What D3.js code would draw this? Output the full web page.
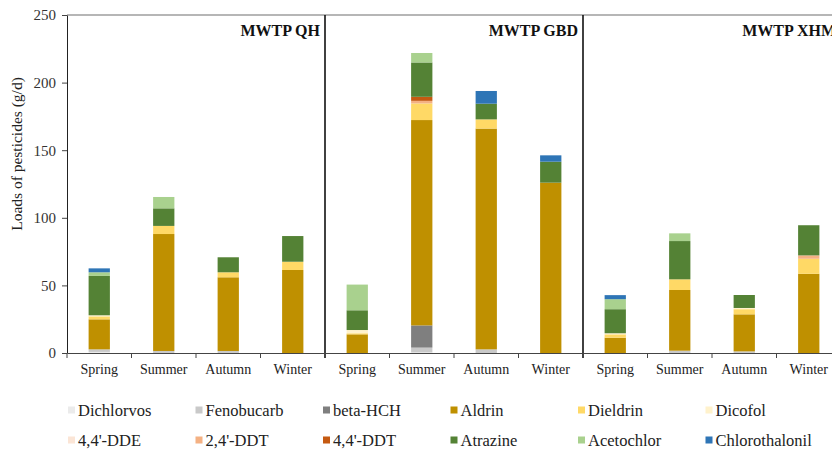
<!DOCTYPE html>
<html>
<head>
<meta charset="utf-8">
<script src="https://cdn.jsdelivr.net/npm/d3@7"></script>
<style>
  html, body { margin: 0; padding: 0; background: #fff; }
  svg { display: block; }
  svg text { font-family: "Liberation Serif", "Times New Roman", serif; }
</style>
</head>
<body>
<svg id="chart" width="832" height="450"></svg>
<script>
// Treatment plants and sampling seasons
const plants = ["MWTP QH", "MWTP GBD", "MWTP XHM"];
const seasons = ["Spring", "Summer", "Autumn", "Winter"];
const yTicks = [0, 50, 100, 150, 200, 250];

// Pesticide names (stack order, bottom to top) and their fill colours
const pesticides = ["Dichlorvos", "Fenobucarb", "beta-HCH", "Aldrin", "Dieldrin", "Dicofol",
                    "4,4'-DDE", "2,4'-DDT", "4,4'-DDT", "Atrazine", "Acetochlor", "Chlorothalonil"];
const colors = ["#ebebeb", "#c9c9c9", "#7f7f7f", "#bf9000", "#ffd966", "#fff2cc",
                "#fbe5d6", "#f4b183", "#c55a11", "#548235", "#a9d18e", "#2e75b6"];

// Loads (g/d); order: QH Spring..Winter, GBD Spring..Winter, XHM Spring..Winter
const dichlorvos     = [0.8, 0, 0, 0,    0, 0.5, 0, 0,      0, 0, 0, 0];
const fenobucarb     = [1.9, 1.5, 1.5, 0, 0, 3.5, 2.7, 0,   0, 1.7, 1.2, 0];
const betaHCH        = [0, 0, 0, 0,      0, 16.4, 0, 0,     0, 0, 0, 0];
const aldrin         = [22.2, 86.5, 54.5, 61.4, 13.8, 151.9, 163.3, 126, 11.3, 44.9, 27.4, 58.6];
const dieldrin       = [2.2, 6.0, 3.7, 6.1, 0.8, 12.3, 6.8, 0, 2.5, 7.9, 3.8, 11.1];
const dicofol        = [0.8, 0, 0, 0,    2.4, 0, 0, 0,      0.8, 0, 0.9, 0];
const dde44          = [0, 0, 0, 0,      0, 0, 0, 0,        0, 0, 0, 0];
const ddt24          = [0, 0, 0, 0,      0, 1.9, 0, 0,      0, 0, 0, 2.5];
const ddt44          = [0, 0, 0, 0,      0, 3.0, 0, 0,      0, 0, 0, 0];
const atrazine       = [29.1, 13.0, 11.1, 19.0, 14.6, 25.4, 11.6, 15.5, 17.8, 28.3, 9.6, 22.3];
const acetochlor     = [2.7, 8.4, 0, 0,  19.0, 7.0, 0, 0,   7.4, 5.7, 0, 0];
const chlorothalonil = [2.9, 0, 0, 0,    0, 0, 9.4, 4.7,    3.0, 0, 0, 0];

const seriesValues = [dichlorvos, fenobucarb, betaHCH, aldrin, dieldrin, dicofol,
                      dde44, ddt24, ddt44, atrazine, acetochlor, chlorothalonil];

const FONT = "Liberation Serif, Times New Roman, serif";

// Build one row per bar for d3.stack
const rows = [];
plants.forEach((p, pi) => seasons.forEach((s, si) => {
  const i = pi * seasons.length + si;
  const row = { key: p + "|" + s, plant: p, season: s };
  pesticides.forEach((name, k) => { row[name] = seriesValues[k][i]; });
  rows.push(row);
}));

const svg = d3.select("#chart");
const margin = { left: 67, top: 15, bottom: 353, right: 841 };

const x = d3.scaleBand()
  .domain(rows.map(d => d.key))
  .range([margin.left, margin.right])
  .paddingInner(0.67)
  .paddingOuter(0.335);

const y = d3.scaleLinear().domain([0, 250]).range([margin.bottom, margin.top]);

const stacked = d3.stack().keys(pesticides)(rows);
const color = d3.scaleOrdinal().domain(pesticides).range(colors);

// Stacked bars
svg.append("g").selectAll("g")
  .data(stacked)
  .join("g")
  .attr("fill", d => color(d.key))
  .selectAll("rect")
  .data(d => d.filter(v => v[1] - v[0] > 0))
  .join("rect")
  .attr("x", d => x(d.data.key))
  .attr("width", x.bandwidth())
  .attr("y", d => y(d[1]))
  .attr("height", d => y(d[0]) - y(d[1]));

// Category edges along the x axis
const step = x.step();
const boundary = rows.map((d, i) => margin.left + i * step).concat([margin.left + rows.length * step]);

// Top frame
svg.append("line")
  .attr("x1", margin.left).attr("x2", margin.right)
  .attr("y1", margin.top).attr("y2", margin.top)
  .attr("stroke", "#6f6f6f").attr("stroke-width", 1.2);

// Panel separators
plants.forEach((p, pi) => {
  if (pi === 0) return;
  const xs = boundary[pi * seasons.length];
  svg.append("line")
    .attr("x1", xs).attr("x2", xs)
    .attr("y1", margin.top).attr("y2", margin.bottom + 5)
    .attr("stroke", "#111").attr("stroke-width", 1.6);
});

// Panel titles
plants.forEach((p, pi) => {
  const xr = boundary[(pi + 1) * seasons.length] - 5;
  svg.append("text")
    .attr("x", xr).attr("y", 36)
    .attr("text-anchor", "end")
    .attr("font-family", FONT)
    .attr("font-weight", "bold")
    .attr("font-size", 16)
    .attr("fill", "#111")
    .text(p);
});

// Y axis
const yAxis = svg.append("g")
  .attr("transform", `translate(${margin.left},0)`)
  .call(d3.axisLeft(y).tickValues(yTicks).tickSize(5).tickPadding(6).tickSizeOuter(0))
  .attr("font-family", FONT);
yAxis.select(".domain").attr("stroke", "#222");
yAxis.selectAll(".tick line").attr("stroke", "#444");
yAxis.selectAll("text").attr("font-size", 15).attr("fill", "#333");

// X axis: season labels under each bar
const xAxis = svg.append("g")
  .attr("transform", `translate(0,${margin.bottom})`)
  .call(d3.axisBottom(x).tickSize(0).tickPadding(11).tickSizeOuter(0)
    .tickFormat(k => k.split("|")[1]))
  .attr("font-family", FONT);
xAxis.select(".domain").attr("stroke", "#444").attr("stroke-width", 1.2);
xAxis.selectAll("text").attr("font-size", 14).attr("fill", "#222");

// Boundary tick marks on the x axis
svg.append("g").selectAll("line")
  .data(boundary)
  .join("line")
  .attr("x1", d => d).attr("x2", d => d)
  .attr("y1", margin.bottom).attr("y2", margin.bottom + 5)
  .attr("stroke", "#444");

// Y axis title
svg.append("text")
  .attr("transform", "translate(22,154) rotate(-90)")
  .attr("text-anchor", "middle")
  .attr("font-family", FONT)
  .attr("font-size", 15.5)
  .attr("fill", "#222")
  .text("Loads of pesticides (g/d)");

// Legend: two rows of six
const legend = svg.append("g").attr("font-family", FONT);
pesticides.forEach((name, i) => {
  const col = i % 6, row = Math.floor(i / 6);
  const lx = 68 + col * 127.5, ly = 410 + row * 30;
  legend.append("rect")
    .attr("x", lx).attr("y", ly - 3.5)
    .attr("width", 7).attr("height", 7)
    .attr("fill", colors[i]);
  legend.append("text")
    .attr("x", lx + 10).attr("y", ly)
    .attr("dy", "0.35em")
    .attr("font-family", FONT)
    .attr("font-size", 16.5)
    .attr("fill", "#222")
    .text(name);
});
</script>
</body>
</html>
